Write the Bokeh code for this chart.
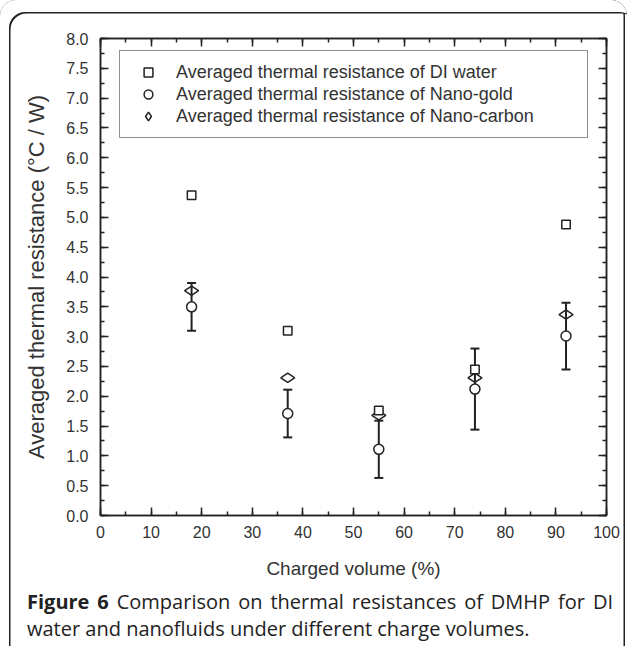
from bokeh.plotting import figure
from bokeh.layouts import column
from bokeh.models import (ColumnDataSource, Whisker, TeeHead, Legend, LegendItem,
                          LinearAxis, Range1d, SingleIntervalTicker, Div,
                          PrintfTickFormatter, CustomJSTickFormatter)
from bokeh.embed import file_html
from bokeh.resources import INLINE
import math

# ---- data ----
volume = [18, 37, 55, 74, 92]
di_water = [5.37, 3.10, 1.76, 2.45, 4.88]
nano_gold = [3.50, 1.71, 1.11, 2.12, 3.01]
nano_gold_err = [0.40, 0.40, 0.48, 0.68, 0.56]
nano_carbon = [3.77, 2.31, 1.68, 2.31, 3.37]

labels = ["Averaged thermal resistance of DI water",
          "Averaged thermal resistance of Nano-gold",
          "Averaged thermal resistance of Nano-carbon"]
x_title = "Charged volume (%)"
y_title = "Averaged thermal resistance (\u00b0C / W)"
caption_bold = "Figure 6"
caption_line1 = "Comparison on thermal resistances of DMHP for DI"
caption_line2 = "water and nanofluids under different charge volumes."

INK = "#222222"
TXT = "#333333"
FONT = "Liberation Sans"

p = figure(width=627, height=588, x_range=Range1d(0, 100), y_range=Range1d(0, 8),
           output_backend="svg", toolbar_location=None,
           min_border_left=100, min_border_right=21, min_border_top=38, min_border_bottom=73)
p.border_fill_color = None
p.background_fill_color = "white"
p.outline_line_color = INK
p.outline_line_width = 1.5
p.xgrid.visible = False
p.ygrid.visible = False

xt = SingleIntervalTicker(interval=10, num_minor_ticks=2)
yt = SingleIntervalTicker(interval=0.5, num_minor_ticks=2)


def style_axis(ax, show_labels):
    ax.axis_line_color = INK
    ax.axis_line_width = 1.5
    ax.major_tick_line_color = INK
    ax.major_tick_line_width = 1.5
    ax.minor_tick_line_color = INK
    ax.minor_tick_line_width = 1.5
    ax.major_tick_in = 8
    ax.major_tick_out = 0
    ax.minor_tick_in = 4
    ax.minor_tick_out = 0
    if show_labels:
        ax.major_label_text_font = FONT
        ax.major_label_text_font_size = "16px"
        ax.major_label_text_color = TXT
        ax.axis_label_text_font = FONT
        ax.axis_label_text_font_style = "normal"
        ax.axis_label_text_color = TXT
    else:
        ax.major_label_text_font_size = "0px"
        ax.major_label_standoff = 0
        ax.formatter = CustomJSTickFormatter(code="return ''")


p.xaxis.ticker = xt
p.yaxis.ticker = yt
p.yaxis.formatter = PrintfTickFormatter(format="%.1f")
style_axis(p.xaxis[0], True)
style_axis(p.yaxis[0], True)
p.xaxis.axis_label = x_title
p.yaxis.axis_label = y_title
p.xaxis.axis_label_text_font_size = "19px"
p.yaxis.axis_label_text_font_size = "22px"
p.xaxis.major_label_standoff = 10
p.yaxis.major_label_standoff = 12
p.xaxis.axis_label_standoff = 17
p.yaxis.axis_label_standoff = 14

top = LinearAxis(ticker=xt)
style_axis(top, False)
p.add_layout(top, "above")
right = LinearAxis(ticker=yt)
style_axis(right, False)
p.add_layout(right, "right")

src = ColumnDataSource(dict(x=volume, di=di_water, gold=nano_gold, carbon=nano_carbon,
                            lo=[v - e for v, e in zip(nano_gold, nano_gold_err)],
                            hi=[v + e for v, e in zip(nano_gold, nano_gold_err)]))

r_carbon = p.scatter("x", "carbon", source=src, marker="diamond", angle=math.pi / 2,
                     size=14, line_color=INK, line_width=1.5, fill_color=None)
wh = Whisker(base="x", upper="hi", lower="lo", source=src, level="underlay",
             line_color=INK, line_width=2,
             upper_head=TeeHead(size=9, line_color=INK, line_width=2),
             lower_head=TeeHead(size=9, line_color=INK, line_width=2))
p.add_layout(wh)
r_gold = p.scatter("x", "gold", source=src, marker="circle", size=10,
                   line_color=INK, line_width=1.5, fill_color="white")
r_di = p.scatter("x", "di", source=src, marker="square", size=8.5,
                 line_color=INK, line_width=1.5, fill_color="white")

legend = Legend(items=[LegendItem(label=labels[0], renderers=[r_di]),
                       LegendItem(label=labels[1], renderers=[r_gold]),
                       LegendItem(label=labels[2], renderers=[r_carbon])],
                location=(19, 377), padding=10, margin=0, spacing=0,
                glyph_width=36, glyph_height=22, label_height=22, label_width=401,
                label_standoff=10, label_text_font=FONT, label_text_font_size="18px",
                label_text_color=TXT, border_line_color=INK, border_line_width=1.5,
                background_fill_color="white", background_fill_alpha=1.0)
p.add_layout(legend, "center")

cap_html = ('<div style="width: 586px; text-align: justify; text-align-last: justify; '
            'white-space: normal;"><b>' + caption_bold + '</b> ' + caption_line1 + '</div>'
            '<div style="width: 586px; text-align: left;">' + caption_line2 + '</div>')
cap = Div(text=cap_html, width=590, height=58, margin=(0, 0, 0, 27),
          styles={"font-family": "'Open Sans', sans-serif", "font-size": "20px",
                  "line-height": "27px", "color": "#222222"})

layout = column(p, cap, spacing=0)
layout.styles = {"border-radius": "16px 16px 0 0",
                 "box-shadow": "inset 9px 12px 0 0 #fff, inset 10.5px 13.5px 0 0 #222, "
                               "inset -2px 0 0 0 #fff, inset -3.5px 0 0 0 #222"}

open("out.html", "w").write(file_html(layout, INLINE))
